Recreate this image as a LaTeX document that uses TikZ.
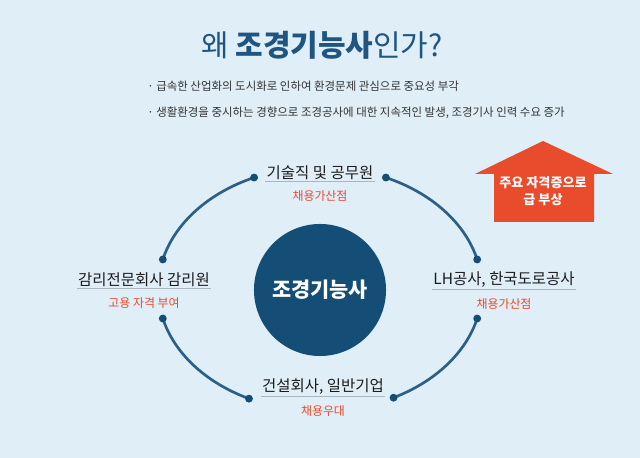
\documentclass[tikz,border=0pt]{standalone}
\usepackage{fontspec}
\setmainfont{Noto Sans CJK KR}
\usetikzlibrary{positioning}
\definecolor{paleblue}{HTML}{DFEEF7}
\definecolor{navy}{HTML}{144D75}
\definecolor{ringblue}{HTML}{2B5F88}
\definecolor{titleblue}{HTML}{1E5581}
\definecolor{perkred}{HTML}{EC4A2C}
\definecolor{rufred}{HTML}{E94B2D}
\definecolor{linegray}{HTML}{A9B5BF}
\definecolor{ink}{HTML}{1C1C1C}
\definecolor{noteink}{HTML}{333333}
\begin{document}
\begin{tikzpicture}[x=0.025cm,y=0.025cm,
  ring/.style={draw=ringblue,line width=1.9pt},
  dot/.style={circle,fill=navy,inner sep=0pt,minimum size=5.6pt},
  job/.style={font=\fontsize{11}{13}\selectfont,text=ink,inner sep=1pt},
  perk/.style={font=\fontsize{8.5}{10}\selectfont,text=perkred,inner sep=0pt},
  uline/.style={draw=linegray,line width=1.1pt},
  note/.style={font=\fontsize{8.15}{10}\selectfont,text=noteink,anchor=west,inner sep=0pt},
  rise/.style={font=\bfseries\fontsize{9.3}{12}\selectfont,text=white,align=center}]
\fill[paleblue] (0,0) rectangle (640,458);
\path[use as bounding box] (0,0) rectangle (640,458);
\node[text=titleblue,font=\fontsize{21.3}{25}\selectfont] (title) at (322,413)
  {왜 \textbf{조경기능사}인가?};
\node[note] (note1) at (147,372) {· 급속한 산업화의 도시화로 인하여 환경문제 관심으로 중요성 부각};
\node[note] (note2) at (147,345) {· 생활환경을 중시하는 경향으로 조경공사에 대한 지속적인 발생, 조경기사 인력 수요 증가};
\fill[rufred] (543,317) -- (613,284) -- (594,284) -- (594,236) -- (494,236)
  -- (494,284) -- (475,284) -- cycle;
\node[rise] (risetext) at (543,267) {주요 자격증으로\\급 부상};
\node[circle,fill=navy,minimum size=3.3cm,inner sep=0pt,
  text=white,font=\bfseries\fontsize{14.8}{17}\selectfont] (hub) at (320,168) {조경기능사};
\coordinate (e) at (320,169);
\path (e) ++(114:162 and 122) coordinate (tl1);
\path (e) ++(166:162 and 122) coordinate (tl2);
\path (e) ++(66:162 and 122) coordinate (tr1);
\path (e) ++(14:162 and 122) coordinate (tr2);
\path (e) ++(194:162 and 122) coordinate (bl1);
\path (e) ++(244:162 and 122) coordinate (bl2);
\path (e) ++(297:162 and 122) coordinate (br1);
\path (e) ++(346:162 and 122) coordinate (br2);
\draw[ring] (tl1) arc[start angle=114,end angle=166,x radius=162,y radius=122];
\draw[ring] (tr2) arc[start angle=14,end angle=66,x radius=162,y radius=122];
\draw[ring] (bl1) arc[start angle=194,end angle=244,x radius=162,y radius=122];
\draw[ring] (br1) arc[start angle=297,end angle=346,x radius=162,y radius=122];
\foreach \p in {tl1,tl2,tr1,tr2,bl1,bl2,br1,br2}
  \node[dot] at (\p) {};
\node[job] (top) at (320,285) {기술직 및 공무원};
\draw[uline] (top.south west) -- (top.south east);
\node[perk,below=6pt of top] (topperk) {채용가산점};
\node[job] (left) at (144,178) {감리전문회사 감리원};
\draw[uline] (left.south west) -- (left.south east);
\node[perk,below=6pt of left] (leftperk) {고용 자격 부여};
\node[job] (right) at (504,178) {LH공사, 한국도로공사};
\draw[uline] (right.south west) -- (right.south east);
\node[perk,below=6pt of right] (rightperk) {채용가산점};
\node[job] (bottom) at (323,71) {건설회사, 일반기업};
\draw[uline] (bottom.south west) -- (bottom.south east);
\node[perk,below=6pt of bottom] (bottomperk) {채용우대};
\end{tikzpicture}
\end{document}
